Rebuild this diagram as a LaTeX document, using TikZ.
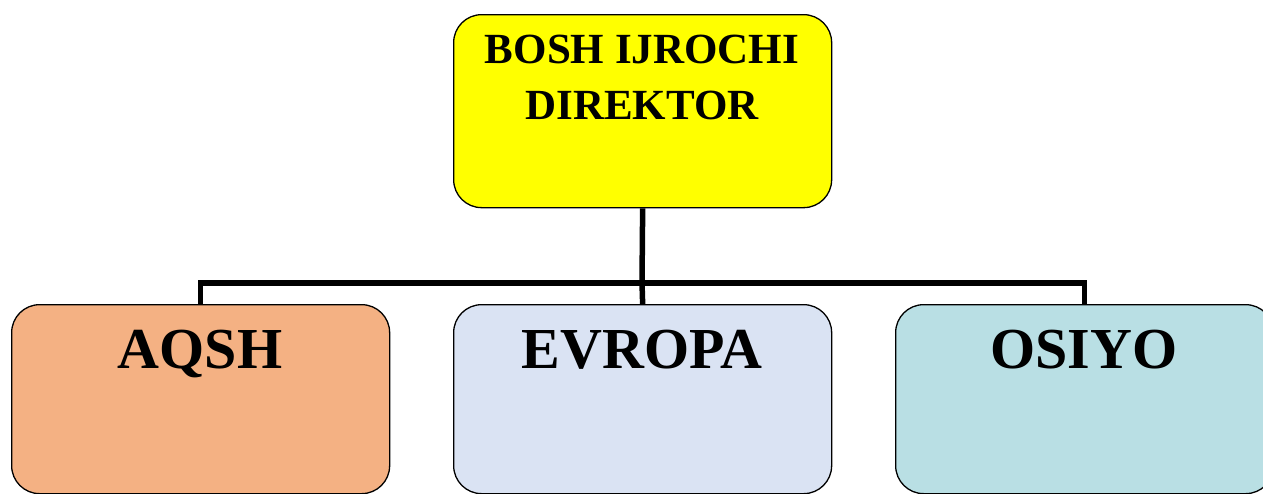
\documentclass[tikz,border=0pt]{standalone}
\usepackage{fontspec}
\setmainfont{Liberation Serif}
\begin{document}
\begin{tikzpicture}[x=1pt,y=-1pt,
  unitbox/.style={draw=black, line width=1.3pt, rounded corners=28pt,
    minimum width=378pt, minimum height=189pt, anchor=north west, inner sep=0pt},
  headbox/.style={unitbox, minimum height=193pt},
  toptext/.style={font=\bfseries\fontsize{43}{56}\selectfont, align=center, inner sep=0pt, anchor=north},
  unittext/.style={font=\bfseries\fontsize{58}{60}\selectfont, inner sep=0pt, anchor=base},
  conn/.style={line width=5.5pt, line join=miter, black}
]
\definecolor{ceoyellow}{HTML}{FFFF00}
\definecolor{usorange}{HTML}{F4B183}
\definecolor{eublue}{HTML}{DAE3F3}
\definecolor{asiateal}{HTML}{B9DFE4}
\useasboundingbox (0,0) rectangle (1263,493);

% head of the company
\node[headbox, fill=ceoyellow] (ceo) at (453,14) {};
\node[toptext] (ceotxt) at (642,35) {BOSH IJROCHI\\DIREKTOR};

% regional divisions
\node[unitbox, fill=usorange] (us) at (11,304) {};
\node[unitbox, fill=eublue] (eu) at (453,304) {};
\node[unitbox, fill=asiateal] (as) at (895,304) {};
\node[unittext] (ustxt) at (200,368) {AQSH};
\node[unittext] (eutxt) at (642,368) {EVROPA};
\node[unittext] (astxt) at (1084,368) {OSIYO};

% connectors
\coordinate (bus) at (642,283);
\draw[conn] (ceo.south) -- (bus);
\draw[conn] (bus) -| (us.north);
\draw[conn] (bus) -| (as.north);
\draw[conn] (bus) -- (eu.north);
\end{tikzpicture}
\end{document}
